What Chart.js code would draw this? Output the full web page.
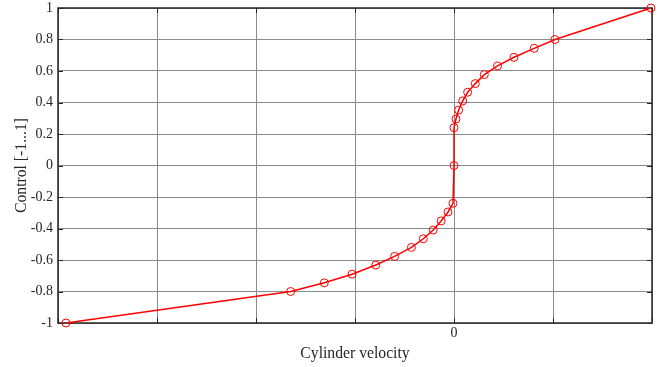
<!DOCTYPE html>
<html>
<head>
<meta charset="utf-8">
<script src="https://cdn.jsdelivr.net/npm/chart.js@4/dist/chart.umd.min.js"></script>
<style>
  html, body { margin: 0; padding: 0; background: #fff; }
  #wrap { width: 665px; height: 367px; }
</style>
</head>
<body>
<div id="wrap"><canvas id="c" width="665" height="367"></canvas></div>
<script>
const velocityValues = [-3.92, -1.65, -1.31, -1.03, -0.79, -0.60, -0.43, -0.31, -0.21, -0.13, -0.06, -0.01, 0, 0, 0.02, 0.047, 0.088, 0.138, 0.215, 0.306, 0.44, 0.606, 0.81, 1.02, 1.99];
const controlValues = [-1, -0.80, -0.745, -0.69, -0.632, -0.577, -0.52, -0.465, -0.41, -0.352, -0.295, -0.24, 0, 0.24, 0.295, 0.352, 0.41, 0.465, 0.52, 0.577, 0.632, 0.687, 0.744, 0.80, 1];
const xTickLabels = { 0: '0' };
const xTitle = 'Cylinder velocity';
const yTitle = 'Control [-1...1]';

const points = velocityValues.map((v, i) => ({ x: v, y: controlValues[i] }));

const boxPlugin = {
  id: 'boxPlugin',
  beforeDatasetsDraw(chart) {
    const { ctx, chartArea: a, scales } = chart;
    ctx.save();
    ctx.strokeStyle = '#262626';
    ctx.lineWidth = 1;
    const tl = 5;
    ctx.beginPath();
    scales.x.ticks.forEach(t => {
      const px = Math.round(scales.x.getPixelForValue(t.value)) + 0.5;
      ctx.moveTo(px, a.bottom); ctx.lineTo(px, a.bottom - tl);
      ctx.moveTo(px, a.top); ctx.lineTo(px, a.top + tl);
    });
    scales.y.ticks.forEach(t => {
      const py = Math.round(scales.y.getPixelForValue(t.value)) + 0.5;
      ctx.moveTo(a.left, py); ctx.lineTo(a.left + tl, py);
      ctx.moveTo(a.right, py); ctx.lineTo(a.right - tl, py);
    });
    ctx.stroke();
    ctx.lineWidth = 1.5;
    ctx.strokeRect(a.left, a.top, a.right - a.left, a.bottom - a.top);
    ctx.restore();
  }
};

new Chart(document.getElementById('c'), {
  type: 'scatter',
  data: {
    datasets: [{
      data: points,
      showLine: true,
      borderColor: '#ff0000',
      borderWidth: 1.5,
      pointRadius: 4,
      pointBorderWidth: 1,
      pointBorderColor: '#ff0000',
      pointBackgroundColor: 'rgba(0,0,0,0)',
      pointHoverRadius: 4,
      tension: 0,
      clip: false
    }]
  },
  options: {
    responsive: false,
    animation: false,
    events: [],
    layout: { padding: { left: 0, top: 8, right: 13, bottom: 0 } },
    plugins: { legend: { display: false }, tooltip: { enabled: false } },
    scales: {
      x: {
        type: 'linear',
        min: -4, max: 2,
        afterFit(s) { s.height = 44; s.paddingLeft = 0; s.paddingRight = 0; },
        afterBuildTicks(s) { s.ticks = [-4, -3, -2, -1, 0, 1, 2].map(v => ({ value: v })); },
        ticks: {
          autoSkip: false,
          maxRotation: 0,
          padding: 2,
          color: '#262626',
          font: { family: 'Liberation Serif', size: 14 },
          callback: v => (xTickLabels[v] !== undefined ? xTickLabels[v] : '')
        },
        grid: { color: '#8a8a8a', lineWidth: 1, drawTicks: false },
        border: { display: false },
        title: {
          display: true, text: xTitle, color: '#262626',
          font: { family: 'Liberation Serif', size: 15.7 },
          padding: { top: 1, bottom: 4 }
        }
      },
      y: {
        type: 'linear',
        min: -1, max: 1,
        afterFit(s) { s.width = 58; s.paddingTop = 0; s.paddingBottom = 0; },
        afterBuildTicks(s) {
          const t = [];
          for (let i = -5; i <= 5; i++) t.push({ value: Math.round(i * 0.2 * 10) / 10 });
          s.ticks = t;
        },
        ticks: {
          padding: 5,
          color: '#262626',
          font: { family: 'Liberation Serif', size: 14 },
          callback: v => String(Math.round(v * 10) / 10)
        },
        grid: { color: '#8a8a8a', lineWidth: 1, drawTicks: false },
        border: { display: false },
        title: {
          display: true, text: yTitle, color: '#262626',
          font: { family: 'Liberation Serif', size: 15.7 },
          padding: { top: 12, bottom: 0 }
        }
      }
    }
  },
  plugins: [boxPlugin]
});
</script>
</body>
</html>
